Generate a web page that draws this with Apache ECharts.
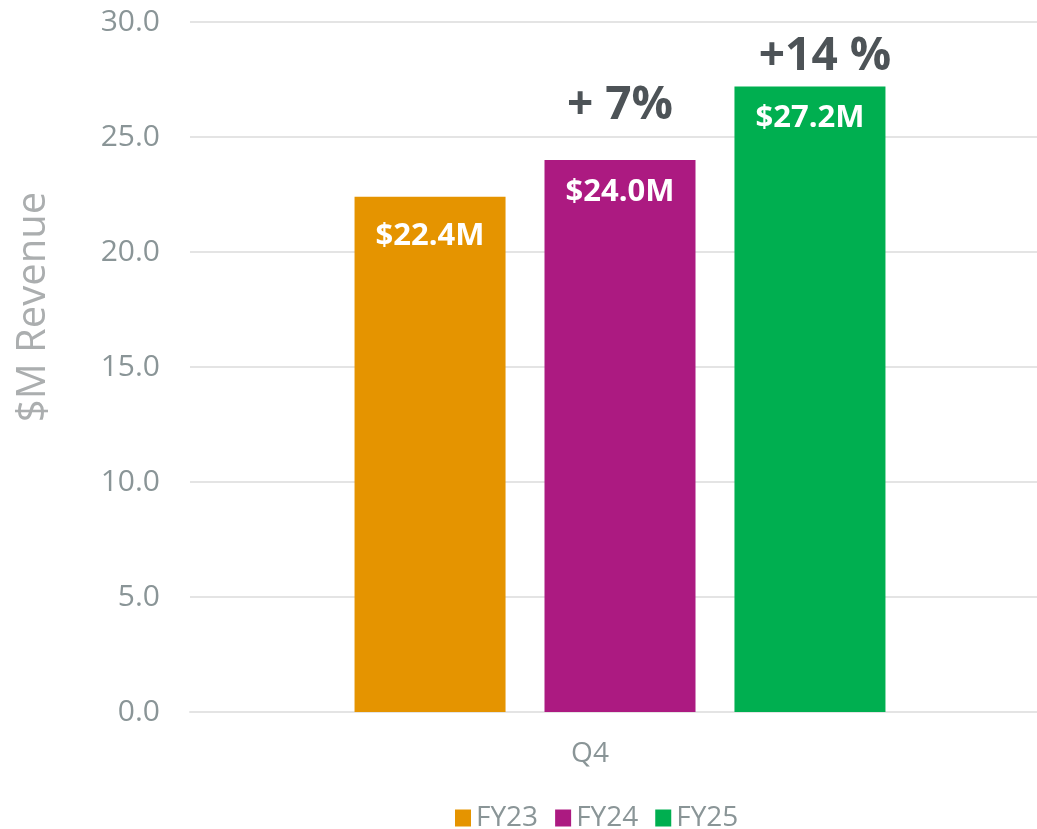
<!DOCTYPE html>
<html>
<head>
<meta charset="utf-8">
<script src="https://cdn.jsdelivr.net/npm/echarts@6/dist/echarts.min.js"></script>
<style>
  html, body { margin: 0; padding: 0; background: #fff; overflow: hidden; }
  /* plot runs a little past the right edge of the window, as in the original */
  #chart { width: 1050px; height: 829px; }
</style>
</head>
<body>
<div id="chart"></div>
<script>
  // data
  const quarters = ['Q4'];
  const years = ['FY23', 'FY24', 'FY25'];
  const revenue = [22.4, 24.0, 27.2];
  const valueLabels = ['$22.4M', '$24.0M', '$27.2M'];
  const growthLabels = ['', '+ 7%', '+14 %'];
  const yTicks = [0, 5, 10, 15, 20, 25, 30];

  const colors = ['#E59400', '#AC1A81', '#00AF50'];

  // label placement for each bar (growth text above, value inside)
  const labelLayout = [
    { distance: 24, offset: 0, growthLineHeight: 0, growthPad: 0 },
    { distance: 17, offset: -142, growthLineHeight: 142, growthPad: 0 },
    { distance: 17, offset: -94, growthLineHeight: 94, growthPad: 30 }
  ];

  const chart = echarts.init(document.getElementById('chart'));

  const series = years.map((name, i) => {
    const lay = labelLayout[i];
    return {
      name: name,
      type: 'bar',
      barWidth: 151,
      barGap: '25.8%',
      itemStyle: { color: colors[i] },
      label: {
        show: true,
        position: 'insideTop',
        distance: lay.distance,
        offset: [0, lay.offset],
        formatter: () => growthLabels[i]
          ? '{p|' + growthLabels[i] + '}\n{v|' + valueLabels[i] + '}'
          : '{v|' + valueLabels[i] + '}',
        rich: {
          p: {
            fontFamily: 'Open Sans',
            fontWeight: 'bold',
            fontSize: 46,
            color: '#4D5357',
            lineHeight: lay.growthLineHeight,
            padding: [0, 0, 0, lay.growthPad]
          },
          v: {
            fontFamily: 'Open Sans',
            fontWeight: 'bold',
            fontSize: 31,
            color: '#ffffff',
            lineHeight: 30
          }
        }
      },
      data: [revenue[i]]
    };
  });

  const option = {
    animation: false,
    grid: { left: 190, right: 0, top: 22, bottom: 117 },
    legend: {
      data: years,
      left: 450,
      top: 799,
      icon: 'rect',
      itemWidth: 16,
      itemHeight: 17,
      itemGap: 17,
      textStyle: { fontFamily: 'Open Sans', fontSize: 28, color: '#8A9597' }
    },
    xAxis: {
      type: 'category',
      data: quarters,
      axisTick: { show: false },
      axisLine: { lineStyle: { color: '#E4E4E4', width: 2 } },
      axisLabel: {
        fontFamily: 'Open Sans',
        fontSize: 28,
        color: '#8A9597',
        margin: 28,
        padding: [0, 60, 0, 0]
      }
    },
    yAxis: {
      type: 'value',
      min: yTicks[0],
      max: yTicks[yTicks.length - 1],
      interval: yTicks[1] - yTicks[0],
      name: '$M Revenue',
      nameLocation: 'middle',
      nameGap: 136,
      nameTextStyle: {
        fontFamily: 'Open Sans',
        fontSize: 40,
        color: '#ABAEAF',
        padding: [0, 0, 0, 120]
      },
      axisLine: { show: false },
      axisTick: { show: false },
      splitLine: { lineStyle: { color: '#E4E4E4', width: 2 } },
      axisLabel: {
        fontFamily: 'Open Sans',
        fontSize: 30,
        color: '#8A9597',
        margin: 30,
        formatter: v => v.toFixed(1)
      }
    },
    series: series
  };

  chart.setOption(option);
</script>
</body>
</html>
